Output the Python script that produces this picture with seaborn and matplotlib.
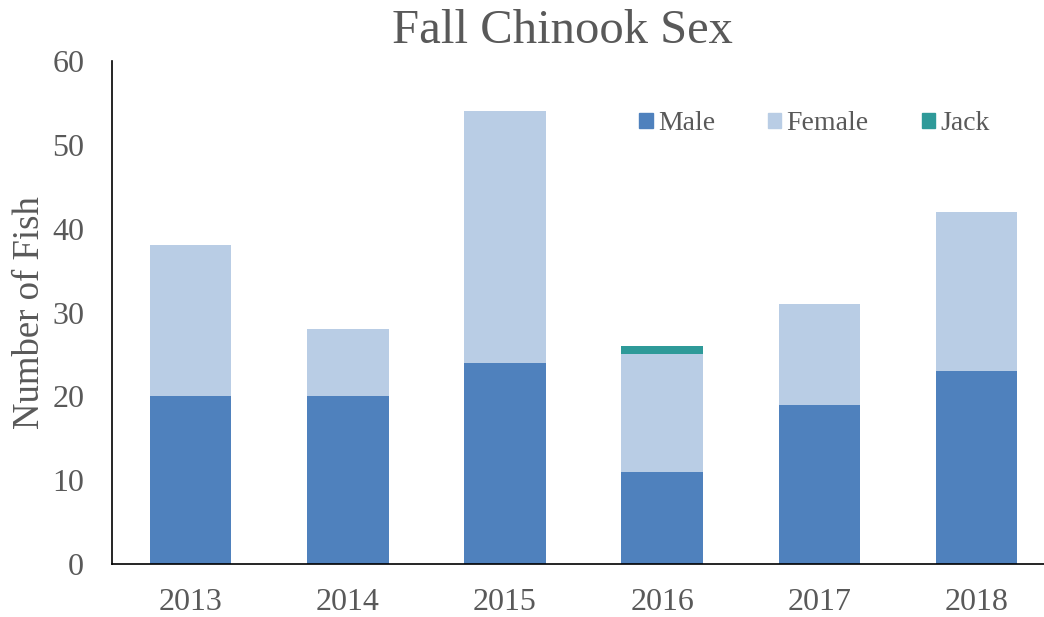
import pandas as pd
import seaborn as sns
from matplotlib import pyplot as plt
from matplotlib.patches import Patch

years = ["2013", "2014", "2015", "2016", "2017", "2018"]
male = [20, 20, 24, 11, 19, 23]
female = [18, 8, 30, 14, 12, 19]
jack = [0, 0, 0, 1, 0, 0]

COLORS = {"Male": "#4F81BD", "Female": "#B9CDE5", "Jack": "#2E9A99"}
TEXT = "#595959"


def main():
    df = pd.DataFrame({"Year": years, "Male": male, "Female": female, "Jack": jack})
    # cumulative tops for stacking
    df["MaleTop"] = df["Male"]
    df["FemaleTop"] = df["Male"] + df["Female"]
    df["JackTop"] = df["FemaleTop"] + df["Jack"]

    sns.set_style("white")
    plt.rcParams["font.family"] = ["Liberation Serif", "DejaVu Serif"]

    fig = plt.figure(figsize=(10.44, 6.17), dpi=100)
    ax = fig.add_axes([112 / 1044, 53 / 617, (1044 - 112) / 1044, (564 - 61) / 617])

    for col, name in [("JackTop", "Jack"), ("FemaleTop", "Female"), ("MaleTop", "Male")]:
        sns.barplot(data=df, x="Year", y=col, color=COLORS[name], width=0.52,
                    saturation=1, ax=ax, linewidth=0)

    ax.set_xlim(-0.5, -0.5 + 932 / 157.2)
    ax.set_ylim(0, 60)
    ax.set_yticks(range(0, 61, 10))
    ax.set_xlabel("")
    ax.set_ylabel("Number of Fish", fontsize=26.5, color=TEXT, labelpad=4)
    ax.tick_params(axis="y", length=0, labelsize=23, labelcolor=TEXT, pad=20)
    ax.tick_params(axis="x", length=0, labelsize=23, labelcolor=TEXT, pad=17)
    for s in ["top", "right"]:
        ax.spines[s].set_visible(False)
    for s in ["left", "bottom"]:
        ax.spines[s].set_color("black")
        ax.spines[s].set_linewidth(1.2)

    handles = [Patch(color=COLORS[n]) for n in ["Male", "Female", "Jack"]]
    leg = ax.legend(handles, ["Male", "Female", "Jack"], ncol=3, frameon=False,
                    loc="center", bbox_to_anchor=((814.5 - 112) / 932, 1 - (124 - 61) / 503),
                    fontsize=20, handlelength=0.47, handleheight=0.47,
                    handletextpad=0.2, columnspacing=1.9)
    for t in leg.get_texts():
        t.set_color(TEXT)

    fig.text(562 / 1044, 1 - 31 / 617, "Fall Chinook Sex", ha="center", va="center",
             fontsize=35, color=TEXT)

    fig.savefig("out.png", dpi=100)


if __name__ == "__main__":
    main()
